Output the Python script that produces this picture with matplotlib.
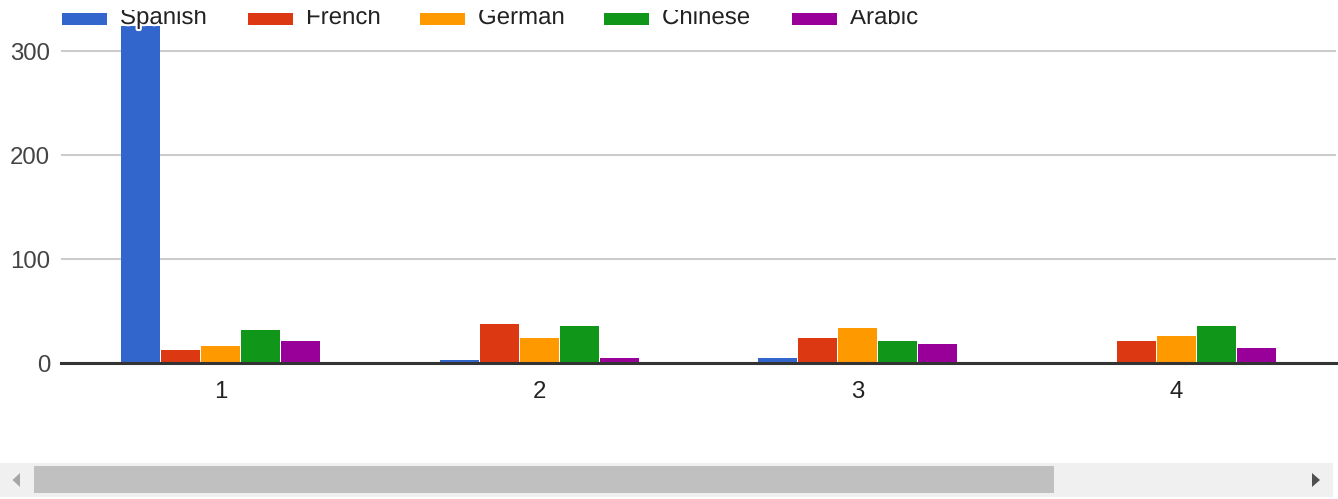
import matplotlib
matplotlib.use("Agg")
import matplotlib.pyplot as plt
import matplotlib.patheffects as pe
from matplotlib.patches import Rectangle, Polygon
import numpy as np

W, H = 1338, 499          # output size in px (dpi 100)

groups   = [1, 2, 3, 4]
series   = ["Spanish", "French", "German", "Chinese", "Arabic"]
spanish  = [330, 3, 5, 0]     # group 1 bar runs off the top of the chart
french   = [13, 38, 24, 21]
german   = [17, 24, 34, 26]
chinese  = [32, 36, 21, 36]
arabic   = [21, 5, 19, 15]
y_ticks  = [0, 100, 200, 300]

COLORS   = ["#3366cc", "#dc3912", "#ff9900", "#109618", "#990099"]
LEGEND_X = [62, 248, 420, 604, 792]   # swatch left edges, px
FS       = 17.3                        # ~24px text

plt.rcParams["font.family"] = ["Liberation Sans", "DejaVu Sans"]


def fig_rect(fig, x0, y0, x1, y1, color, z=5):
    # rectangle in pixel coords (y from top)
    fig.add_artist(Rectangle((x0 / W, 1 - y1 / H), (x1 - x0) / W, (y1 - y0) / H,
                             transform=fig.transFigure, facecolor=color,
                             edgecolor="none", zorder=z))


def fig_poly(fig, pts, color, z=6):
    fig.add_artist(Polygon([(x / W, 1 - y / H) for x, y in pts], closed=True,
                           transform=fig.transFigure, facecolor=color,
                           edgecolor="none", zorder=z))


fig = plt.figure(figsize=(W / 100, H / 100), dpi=100)
zero_y, top_y, left_x, right_x = 363.3, 26, 61, 1336
ax = fig.add_axes([left_x / W, 1 - zero_y / H, (right_x - left_x) / W, (zero_y - top_y) / H])

data = [spanish, french, german, chinese, arabic]
pitch = 0.1255
x = np.array(groups, dtype=float)
for i, (vals, c) in enumerate(zip(data, COLORS)):
    ax.bar(x + (i - 2) * pitch, vals, width=pitch * 39 / 40, color=c, zorder=2)

ax.set_xlim(0.5, 4.5)
ax.set_ylim(0, (zero_y - top_y) / 1.04)
ax.set_yticks(y_ticks)
ax.set_xticks(groups)
ax.set_xticklabels([str(g) for g in groups])
for s in ax.spines.values():
    s.set_visible(False)
ax.grid(axis="y", color="#cccccc", linewidth=1.5, zorder=1)
ax.axhline(0, color="#333333", linewidth=2.2, zorder=3, clip_on=False)
ax.tick_params(axis="y", length=0, pad=7.9, labelsize=FS, labelcolor="#444444")
ax.tick_params(axis="x", length=0, pad=12.5, labelsize=FS, labelcolor="#222222")

# legend, cut off at the top like the screenshot
halo = [pe.withStroke(linewidth=3, foreground="white")]
for name, c, lx in zip(series, COLORS, LEGEND_X):
    fig_rect(fig, lx, 13, lx + 45, 25, c, z=5)
    fig.text((lx + 58) / W, 1 - 24 / H, name, fontsize=FS, color="#222222",
             va="baseline", ha="left", zorder=6, path_effects=halo)
fig_rect(fig, 0, 0, W, 10, "white", z=7)

# horizontal scrollbar
fig_rect(fig, 0, 463, 1333, 497, "#f0f0f0", z=5)
fig_rect(fig, 34, 466, 1054, 492.5, "#c0c0c0", z=6)
fig_poly(fig, [(20, 473), (20, 487), (12.5, 480)], "#a6a6a6")
fig_poly(fig, [(1312, 473), (1312, 487), (1320, 480)], "#505050")

fig.savefig("out.png", dpi=100)
